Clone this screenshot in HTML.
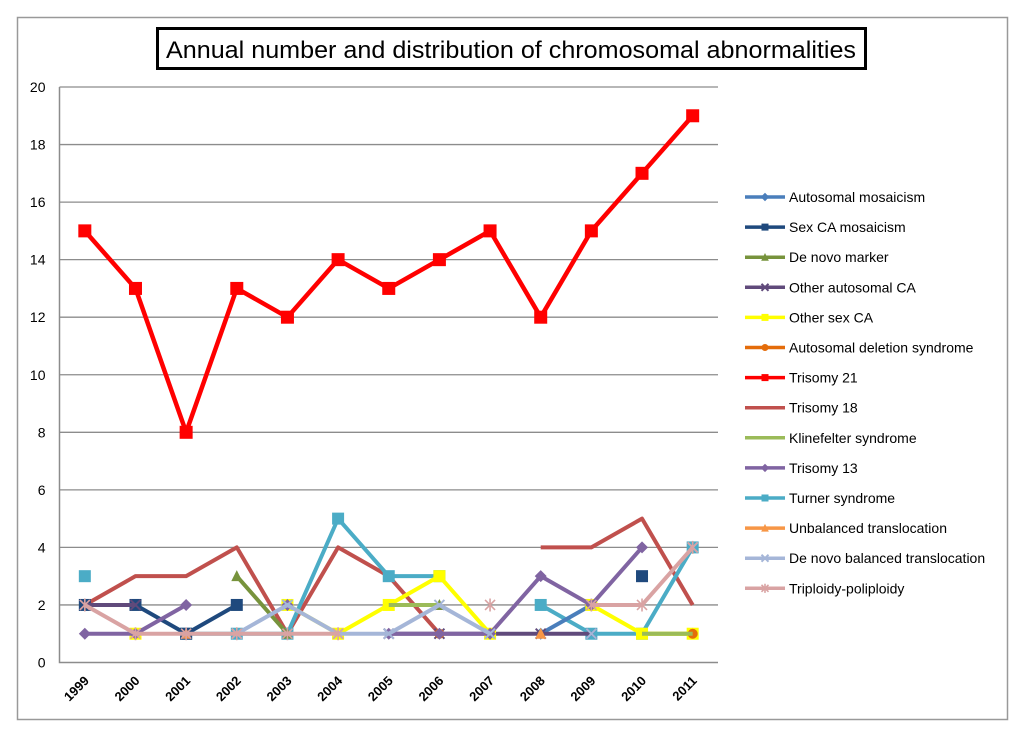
<!DOCTYPE html>
<html><head><meta charset="utf-8"><style>
body{margin:0;background:#fff;}
svg{display:block;font-family:"Liberation Sans",sans-serif;}
</style></head><body>
<svg id="chart" width="1024" height="733" viewBox="0 0 1024 733" xmlns="http://www.w3.org/2000/svg">
<rect x="17.5" y="17.5" width="990" height="702" fill="#fff" stroke="#999" stroke-width="1.5"/>
<rect x="157.5" y="28.5" width="708" height="40" fill="#fff" stroke="#000" stroke-width="3"/>
<text x="511" y="58" text-anchor="middle" font-size="24" textLength="690" lengthAdjust="spacingAndGlyphs">Annual number and distribution of chromosomal abnormalities</text>
<g id="grid"></g><g id="series"></g><g id="legend"></g>
</svg>
<script>
const years=["1999","2000","2001","2002","2003","2004","2005","2006","2007","2008","2009","2010","2011"];
const yTicks=[0,2,4,6,8,10,12,14,16,18,20];
const names=["Autosomal mosaicism","Sex CA mosaicism","De novo marker","Other autosomal CA","Other sex CA","Autosomal deletion syndrome","Trisomy 21","Trisomy 18","Klinefelter syndrome","Trisomy 13","Turner syndrome","Unbalanced translocation","De novo balanced translocation","Triploidy-poliploidy"];
const colors=["#4a7ebb","#1f497d","#77933c","#604a7b","#ffff00","#e46c0a","#ff0000","#c0504d","#9bbb59","#8064a2","#4bacc6","#f79646","#a5b6d8","#d9a3a3"];
const markers=["diamond","square","triangle","x","square","circle","square","none","none","diamond","square","triangle","x","star"];
const N=null;
const sAutoMos=[N,N,N,N,N,N,N,N,N,1,2,N,N];
const sSexMos=[2,2,1,2,N,N,N,N,N,N,N,3,N];
const sMarker=[N,N,N,3,1,N,2,2,N,N,N,1,1];
const sOtherAuto=[2,2,N,N,N,N,1,1,1,1,1,N,N];
const sOtherSex=[N,1,N,N,2,1,2,3,1,N,2,1,1];
const sDeletion=[N,N,N,N,N,N,N,1,N,N,N,N,1];
const sT21=[15,13,8,13,12,14,13,14,15,12,15,17,19];
const sT18=[2,3,3,4,1,4,3,1,N,4,4,5,2];
const sKline=[N,N,N,N,N,N,2,2,N,N,N,1,1];
const sT13=[1,1,2,N,2,N,1,1,1,3,2,4,N];
const sTurner=[3,N,1,1,1,5,3,3,N,2,1,1,4];
const sUnbal=[N,N,1,N,N,N,N,N,N,1,N,N,N];
const sBal=[N,N,N,1,2,1,1,2,1,N,1,N,4];
const sTrip=[2,1,1,1,1,1,N,N,2,N,2,2,4];
const allSeries=[sAutoMos,sSexMos,sMarker,sOtherAuto,sOtherSex,sDeletion,sT21,sT18,sKline,sT13,sTurner,sUnbal,sBal,sTrip];
const drawOrder=[7,10,0,1,2,3,4,5,8,9,11,12,13,6];
const L=59.5,R=718,T=87,B=662.5;
const NS="http://www.w3.org/2000/svg";
const step=(R-L)/years.length;
function xS(i){return L+step*(i+0.5);}
function yS(v){return B-(v/20)*(B-T);}
function mk(t,a,p){const e=document.createElementNS(NS,t);for(const k in a)e.setAttribute(k,a[k]);p.appendChild(e);return e;}
const grid=document.getElementById('grid');
yTicks.forEach(v=>{
  if(v>0){const g=mk('line',{x1:L,x2:R,y1:yS(v),y2:yS(v),stroke:'#8c8c8c','stroke-width':1.3},grid);
  
  }
  const t=mk('text',{x:L-14,y:yS(v)+5,'text-anchor':'end','font-size':14},grid);t.textContent=v;
  
  
});
const ax=mk('path',{d:`M${L} ${T} V${B} H${R}`,fill:'none',stroke:'#8c8c8c','stroke-width':1.5},grid);


years.forEach((y,i)=>{
  const t=mk('text',{x:xS(i)+5,y:B+19,'text-anchor':'end','font-size':13,'font-weight':'bold',transform:`rotate(-45 ${xS(i)+5} ${B+19})`},grid);t.textContent=y;
  
  
});
function marker(type,x,y,c,s,p){
  let e;
  if(type==='square')e=mk('rect',{x:x-s,y:y-s,width:2*s,height:2*s,fill:c},p);
  else if(type==='diamond')e=mk('path',{d:`M${x} ${y-s*1.2}L${x+s*1.2} ${y}L${x} ${y+s*1.2}L${x-s*1.2} ${y}Z`,fill:c},p);
  else if(type==='triangle')e=mk('path',{d:`M${x} ${y-s*1.2}L${x+s*1.1} ${y+s}L${x-s*1.1} ${y+s}Z`,fill:c},p);
  else if(type==='circle')e=mk('circle',{cx:x,cy:y,r:s,fill:c},p);
  else if(type==='x')e=mk('path',{d:`M${x-s} ${y-s}L${x+s} ${y+s}M${x+s} ${y-s}L${x-s} ${y+s}`,stroke:c,'stroke-width':2},p);
  else if(type==='star')e=mk('path',{d:`M${x-s} ${y-s}L${x+s} ${y+s}M${x+s} ${y-s}L${x-s} ${y+s}M${x} ${y-s*1.3}V${y+s*1.3}`,stroke:c,'stroke-width':1.6},p);
  return e;
}
const sg=document.getElementById('series');
drawOrder.forEach(k=>{
  const d=allSeries[k],c=colors[k];
  const g=mk('g',{},sg);
  
  
  let path='',pen=false;
  d.forEach((v,i)=>{if(v===null){pen=false;return;}path+=(pen?'L':'M')+xS(i)+' '+yS(v);pen=true;});
  if(path){const l=mk('path',{d:path,fill:'none',stroke:c,'stroke-width':k===6?4.5:4,'stroke-linejoin':'round'},g);
  
  }
  const sz=k===6?6.5:(markers[k]==='square'?6:5);
  d.forEach((v,i)=>{if(v===null||markers[k]==='none')return;
    const m=marker(markers[k],xS(i),yS(v),c,sz,g);
    
    });
});
const lg=document.getElementById('legend');
names.forEach((n,k)=>{
  const y=197+k*30.1;
  const g=mk('g',{},lg);
  
  
  mk('line',{x1:745,x2:785,y1:y,y2:y,stroke:colors[k],'stroke-width':3.5},g);
  if(markers[k]!=='none')marker(markers[k],765,y,colors[k],3.5,g);
  const t=mk('text',{x:789,y:y+5,'font-size':14},g);t.textContent=n;
});
</script>
</body></html>
